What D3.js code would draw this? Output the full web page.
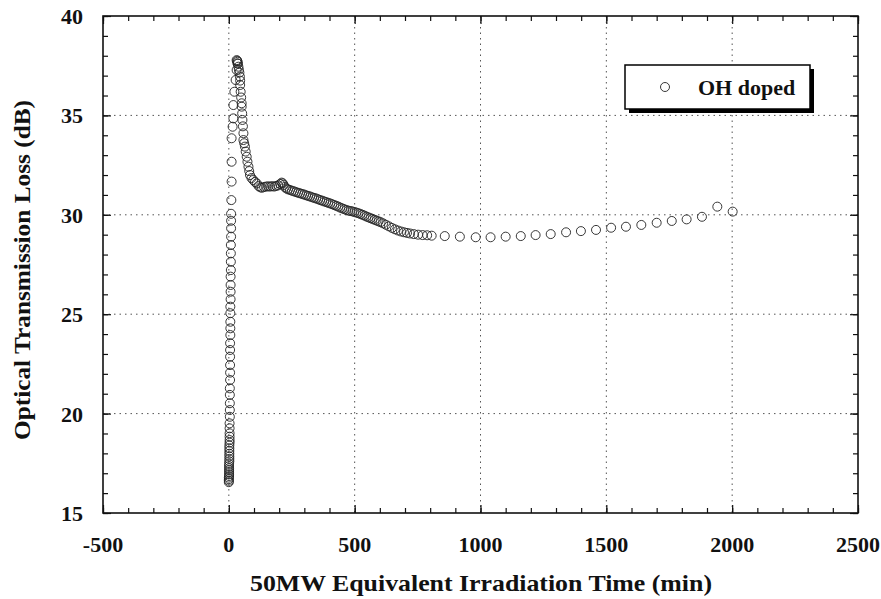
<!DOCTYPE html>
<html>
<head>
<meta charset="utf-8">
<script src="https://cdn.jsdelivr.net/npm/d3@7"></script>
<style>
  body { margin: 0; background: #fff; }
  text { font-family: "Liberation Serif", "Times New Roman", serif; font-weight: bold; fill: #111; }
</style>
</head>
<body>
<div id="chart"></div>
<script>
// initial rise near t = 0
var riseTime = [0,0,0,0,1,1,1,1,1,1,1,2,2,2,2,2,2,2,3,3,
  3,3,3,3,4,4,4,4,4,5,5,5,5,5,5,6,6,6,6,6,7,7,7,7,8,8,8,8,9,9,9,9,10,
  11,11,11,15,18,18,22,27,31,34,31];
var riseLoss = [16.55,16.62,16.70,16.78,16.86,16.95,17.05,17.15,17.25,17.36,17.48,17.60,17.72,17.85,17.98,18.12,18.26,18.40,18.54,18.67,
  18.84,19.01,19.26,19.51,19.84,20.18,20.52,20.94,21.27,21.69,22.06,22.44,22.86,23.20,23.54,23.95,24.29,24.62,25.05,25.38,25.75,26.13,26.47,26.89,27.22,27.64,28.06,28.48,28.90,29.32,29.70,30.05,30.74,
  31.67,32.67,33.85,34.43,34.85,35.52,36.19,36.78,37.28,37.62,37.78];

// drop after the peak and the plateau
var peakTime = [33,35,36,38,40,42,44,45,45,47,49,51,51,53,54,56,58,58,61,64,67,71,74,78,81,84,90,97,104,111,
  118,125,132,140,148,156,164,172,180,188,196,204,210,214,218];
var peakLoss = [37.75,37.70,37.60,37.45,37.30,37.15,36.95,36.75,36.53,36.19,35.90,35.61,35.44,35.10,34.77,34.45,34.10,33.76,33.60,33.43,33.18,32.92,32.67,32.42,32.20,32.00,31.85,31.75,31.65,31.58,
  31.45,31.38,31.36,31.40,31.42,31.43,31.42,31.44,31.42,31.45,31.48,31.55,31.62,31.58,31.50];

// slow decay
var decayTime = [222,228,235,243,251,259,267,275,283,291,299,307,315,323,331,339,347,355,363,371,379,387,395,403,411,419,427,435,443,451,459,467,475,483,491,499,507,515,523,531,539,547,555,563,571,579,587,595,603,
  613,624,636,648,660,672,684,696,708,720,735,752,770,788,806];
var decayLoss = [31.40,31.33,31.28,31.25,31.21,31.18,31.14,31.11,31.08,31.05,31.02,30.98,30.95,30.92,30.88,30.85,30.82,30.78,30.74,30.71,30.67,30.64,30.60,30.57,30.53,30.49,30.45,30.41,30.36,30.32,30.28,30.24,30.21,30.19,30.17,30.14,30.11,30.08,30.04,30.00,29.96,29.91,29.87,29.83,29.79,29.75,29.71,29.67,29.63,
  29.57,29.50,29.42,29.34,29.27,29.21,29.16,29.12,29.09,29.06,29.03,29.00,28.98,28.97,28.95];

// sparse tail
var tailTime = [858,918,981,1040,1100,1160,1219,1279,1340,1399,1459,1519,1578,1639,1700,1760,1819,1880,1941,2002];
var tailLoss = [28.93,28.90,28.87,28.87,28.90,28.93,28.98,29.03,29.12,29.18,29.24,29.35,29.40,29.49,29.60,29.69,29.77,29.90,30.41,30.16];

var xTicks = [-500, 0, 500, 1000, 1500, 2000, 2500];
var yTicks = [15, 20, 25, 30, 35, 40];
var seriesName = "OH doped";

var svgWidth = 881, svgHeight = 599;
var margin = { top: 16, right: 23, bottom: 86, left: 103 };
var width = svgWidth - margin.left - margin.right;
var height = svgHeight - margin.top - margin.bottom;

var points = [];
[[riseTime, riseLoss], [peakTime, peakLoss], [decayTime, decayLoss], [tailTime, tailLoss]].forEach(function(s) {
  s[0].forEach(function(t, i) { points.push({ t: t, loss: s[1][i] }); });
});

var svg = d3.select("#chart").append("svg")
  .attr("width", svgWidth)
  .attr("height", svgHeight);

var g = svg.append("g")
  .attr("transform", `translate(${margin.left}, ${margin.top})`);

var x = d3.scaleLinear().domain([-500, 2500]).range([0, width]);
var y = d3.scaleLinear().domain([15, 40]).range([height, 0]);

// dotted grid at inner major ticks
g.append("g").selectAll("line")
  .data(xTicks.slice(1, -1)).enter().append("line")
  .attr("x1", d => x(d)).attr("x2", d => x(d))
  .attr("y1", 0).attr("y2", height)
  .attr("stroke", "#555").attr("stroke-width", 1).attr("stroke-dasharray", "1.5,4");
g.append("g").selectAll("line")
  .data(yTicks.slice(1, -1)).enter().append("line")
  .attr("y1", d => y(d)).attr("y2", d => y(d))
  .attr("x1", 0).attr("x2", width)
  .attr("stroke", "#555").attr("stroke-width", 1).attr("stroke-dasharray", "1.5,4");

// ticks pointing inward on all four sides
var xMinor = d3.range(-500, 2501, 100);
var yMinor = d3.range(15, 40.01, 1);

function tickAxis(axis, scale, major, minor) {
  var a1 = axis(scale).tickValues(minor).tickSize(-5).tickFormat("");
  var a2 = axis(scale).tickValues(major).tickSize(-8).tickFormat("");
  return [a1, a2];
}

[["bottom", d3.axisBottom, x, xTicks, xMinor, `translate(0,${height})`],
 ["top", d3.axisTop, x, xTicks, xMinor, "translate(0,0)"],
 ["left", d3.axisLeft, y, yTicks, yMinor, "translate(0,0)"],
 ["right", d3.axisRight, y, yTicks, yMinor, `translate(${width},0)`]].forEach(function(a) {
  tickAxis(a[1], a[2], a[3], a[4]).forEach(function(ax) {
    var ag = g.append("g").attr("transform", a[5]).call(ax);
    ag.select(".domain").remove();
    ag.selectAll("line").attr("stroke", "#111").attr("stroke-width", 1.2);
  });
});

// frame
g.append("rect")
  .attr("width", width).attr("height", height)
  .attr("fill", "none").attr("stroke", "#111").attr("stroke-width", 1.6);

// tick labels
g.append("g").selectAll("text")
  .data(xTicks).enter().append("text")
  .attr("x", d => x(d)).attr("y", height + 39)
  .attr("text-anchor", "middle").style("font-size", "22px")
  .text(d => d);
g.append("g").selectAll("text")
  .data(yTicks).enter().append("text")
  .attr("x", -20).attr("y", d => y(d) + 8)
  .attr("text-anchor", "end").style("font-size", "22px")
  .text(d => d);

// data points
g.append("g").selectAll("circle")
  .data(points).enter().append("circle")
  .attr("cx", d => x(d.t)).attr("cy", d => y(d.loss))
  .attr("r", 4.5)
  .attr("fill", "none").attr("stroke", "#222").attr("stroke-width", 0.9);

// legend with drop shadow
var lg = svg.append("g").attr("transform", "translate(625,65)");
lg.append("rect").attr("x", 4).attr("y", 4).attr("width", 185).attr("height", 44).attr("fill", "#000");
lg.append("rect").attr("width", 185).attr("height", 44)
  .attr("fill", "#fff").attr("stroke", "#000").attr("stroke-width", 1.5);
lg.append("circle").attr("cx", 40).attr("cy", 22).attr("r", 4.5)
  .attr("fill", "none").attr("stroke", "#222").attr("stroke-width", 0.9);
lg.append("text").attr("x", 73).attr("y", 30).style("font-size", "22px").text(seriesName);

// axis titles
svg.append("text")
  .attr("x", 481).attr("y", 591)
  .attr("text-anchor", "middle").style("font-size", "23px")
  .attr("textLength", 462).attr("lengthAdjust", "spacingAndGlyphs")
  .text("50MW Equivalent Irradiation Time (min)");
svg.append("text")
  .attr("transform", "translate(30, 270) rotate(-90)")
  .attr("text-anchor", "middle").style("font-size", "23px")
  .attr("textLength", 340).attr("lengthAdjust", "spacingAndGlyphs")
  .text("Optical Transmission Loss (dB)");
</script>
</body>
</html>
